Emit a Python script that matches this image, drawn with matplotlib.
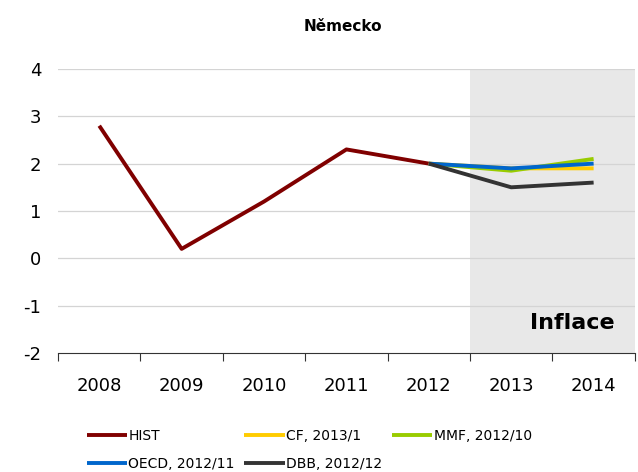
import numpy as np
import matplotlib.pyplot as plt

plt.rcParams["axes.unicode_minus"] = False

years = ["2008", "2009", "2010", "2011", "2012", "2013", "2014"]
hist = [2.8, 0.2, 1.2, 2.3, 2.0]
fc_years = ["2012", "2013", "2014"]
cf = [2.0, 1.9, 1.9]
mmf = [2.0, 1.85, 2.1]
oecd = [2.0, 1.9, 2.0]
dbb = [2.0, 1.5, 1.6]

series = [
    ("HIST", years[:5], hist, "#800000"),
    ("CF, 2013/1", fc_years, cf, "#ffcc00"),
    ("MMF, 2012/10", fc_years, mmf, "#99cc00"),
    ("OECD, 2012/11", fc_years, oecd, "#0066cc"),
    ("DBB, 2012/12", fc_years, dbb, "#333333"),
]

fig = plt.figure(figsize=(6.38, 4.72), dpi=100)
ax = fig.add_axes([0.091, 0.252, 0.904, 0.602])

pos = {y: i for i, y in enumerate(years)}
lines = {}
for label, xs, ys, col in series:
    ln, = ax.plot([pos[x] for x in xs], ys, color=col, lw=2.8, label=label,
                  solid_capstyle="butt", zorder=3)
    lines[label] = ln

ax.axvspan(4.5, 6.5, color="#e8e8e8", zorder=0, lw=0)
for v in range(-1, 5):
    ax.axhline(v, color="#d4d4d4", lw=0.9, zorder=1)

ax.set_xlim(-0.5, 6.5)
ax.set_ylim(-2, 4)
ax.set_xticks(range(len(years)))
ax.set_xticklabels(years)
ax.set_xticks(np.arange(-0.5, 7, 1), minor=True)
ax.tick_params(axis="x", which="major", length=0, labelsize=13, pad=17)
ax.tick_params(axis="x", which="minor", length=6, width=0.8, color="#333333")
ax.set_yticks(range(-2, 5))
ax.tick_params(axis="y", length=0, labelsize=13, pad=12)
for s in ["top", "right", "left"]:
    ax.spines[s].set_visible(False)
ax.spines["bottom"].set_color("#333333")
ax.spines["bottom"].set_linewidth(0.8)

ax.text(6.25, -1.37, "Inflace", fontsize=16, fontweight="bold",
        ha="right", va="center")
fig.text(0.537, 0.943, "Německo", fontsize=11, fontweight="bold",
         ha="center", va="center")

# row-major order for the 3-column legend
order = ["HIST", "OECD, 2012/11", "CF, 2013/1", "DBB, 2012/12", "MMF, 2012/10"]
fig.legend([lines[k] for k in order], order, loc="upper left",
           bbox_to_anchor=(0.127, 0.103), ncol=3, frameon=False, fontsize=10,
           handlelength=2.9, handletextpad=0.1, columnspacing=0.7,
           labelspacing=1.0, borderaxespad=0)

fig.savefig("out.png", dpi=100)
